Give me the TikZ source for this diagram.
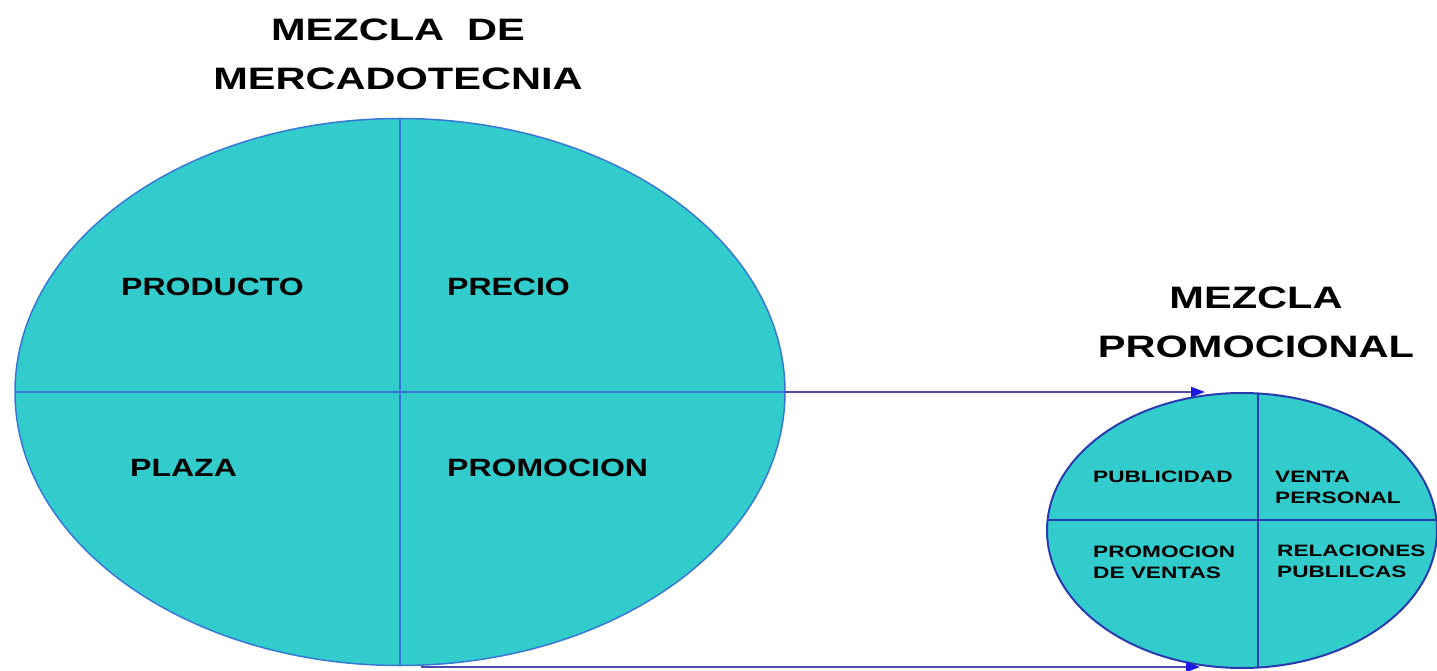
\documentclass[tikz,border=0pt]{standalone}
\usepackage{fontspec}
\setmainfont{Liberation Sans}
\usepackage{graphicx}
\usetikzlibrary{shapes.geometric,arrows.meta}
\definecolor{turq}{RGB}{51,204,204}
\definecolor{bigline}{RGB}{55,120,215}
\definecolor{smallline}{RGB}{40,60,175}
\definecolor{arrline}{RGB}{75,75,170}
\definecolor{arrhead}{RGB}{25,25,225}
\newcommand\sxa[1]{\scalebox{1.34}[1]{#1}}
\newcommand\sxb[1]{\scalebox{1.28}[1]{#1}}
\newcommand\sxc[1]{\scalebox{1.37}[1]{#1}}
\begin{document}
\begin{tikzpicture}[x=1pt,y=-1pt,
  mixbig/.style={ellipse,draw=bigline,line width=1.5pt,fill=turq,inner sep=0pt,outer sep=0pt,
    minimum width=770pt,minimum height=547pt,
    path picture={
      \draw[bigline,line width=2pt] (path picture bounding box.north) -- (path picture bounding box.south);
      \draw[bigline,line width=2pt] (path picture bounding box.west) -- (path picture bounding box.east);}},
  mixsmall/.style={ellipse,draw=smallline,line width=2pt,fill=turq,inner sep=0pt,outer sep=0pt,
    minimum width=390pt,minimum height=275pt,
    path picture={
      \draw[smallline,line width=2.5pt] ([xshift=16pt]path picture bounding box.north) -- ([xshift=16pt]path picture bounding box.south);
      \draw[smallline,line width=2.5pt] ([yshift=10.5pt]path picture bounding box.west) -- ([yshift=10.5pt]path picture bounding box.east);}},
  titletext/.style={font=\fontsize{31}{48.5}\selectfont\bfseries,align=center,inner sep=0pt,anchor=north},
  bigtext/.style={font=\fontsize{25}{30}\selectfont\bfseries,align=left,inner sep=0pt,anchor=north west},
  smalltext/.style={font=\fontsize{16.5}{21}\selectfont\bfseries,align=left,inner sep=0pt,anchor=north west},
  flow/.style={draw=arrline,line width=2pt,-{Triangle[length=14pt,width=10pt,color=arrhead]}}
]
\useasboundingbox (0,0) rectangle (1437,671);
\fill[white] (0,0) rectangle (1437,671);

\node[mixbig] (big) at (400,392) {};
\node[mixsmall] (small) at (1242,530.5) {};

\node[titletext] (t1) at (398,19) {\sxa{MEZCLA\ \ DE}\\\sxa{MERCADOTECNIA}};
\node[titletext] (t2) at (1256,287) {\sxa{MEZCLA}\\\sxa{PROMOCIONAL}};

\node[bigtext] (producto) at (121,278) {\sxb{PRODUCTO}};
\node[bigtext] (precio) at (447,278) {\sxb{PRECIO}};
\node[bigtext] (plaza) at (130,459) {\sxb{PLAZA}};
\node[bigtext] (promocion) at (447,459) {\sxb{PROMOCION}};

\node[smalltext] (publicidad) at (1093,471) {\sxc{PUBLICIDAD}};
\node[smalltext] (venta) at (1275,471) {\sxc{VENTA}\\\sxc{PERSONAL}};
\node[smalltext] (promven) at (1093,546) {\sxc{PROMOCION}\\\sxc{DE VENTAS}};
\node[smalltext] (relac) at (1277,545) {\sxc{RELACIONES}\\\sxc{PUBLILCAS}};

\coordinate (toptip) at (1205,392);
\coordinate (botstart) at (421,667);
\coordinate (bottip) at (1200,667);
\draw[flow] (big.east) -- (toptip);
\draw[flow] (botstart) -- (bottip);
\end{tikzpicture}
\end{document}
